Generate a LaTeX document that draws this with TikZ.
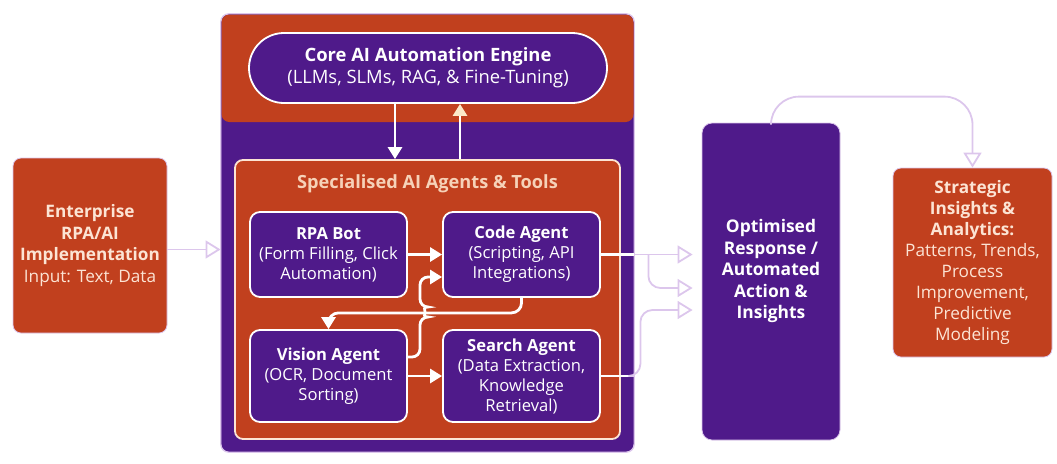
\documentclass[tikz,border=0pt]{standalone}
\usepackage{fontspec}
\setmainfont{Open Sans}
\usetikzlibrary{arrows.meta,positioning}
\definecolor{rustx}{HTML}{C1401E}
\definecolor{violx}{HTML}{4F1A8A}
\definecolor{lilacx}{HTML}{DCC6EC}
\definecolor{peachx}{HTML}{FCE4D4}
\definecolor{sandx}{HTML}{F6D2B8}
\definecolor{butterx}{HTML}{FBE9C8}
\tikzset{
  obox/.style={draw=lilacx,thin,rounded corners=4pt,fill=rustx,align=center,text=peachx,inner sep=0pt,font=\fontsize{8.6}{10.75}\selectfont},
  pbox/.style={draw=white,line width=0.9pt,rounded corners=5pt,fill=violx,align=center,text=white,inner sep=0pt,font=\fontsize{8.3}{10}\selectfont},
  war/.style={-{Triangle[length=6pt,width=7pt]},line width=1.4pt,white},
  lar/.style={-{Triangle[open,length=7.5pt,width=9pt]},line width=0.9pt,lilacx,rounded corners=6pt}
}
\begin{document}
\begin{tikzpicture}[x=0.5pt,y=-0.5pt]
\useasboundingbox (0,0) rectangle (1057,463);
% input
\node[obox,minimum width=77pt,minimum height=87.5pt] (ent) at (90,245.5) {\textbf{Enterprise}\\\textbf{RPA/AI}\\\textbf{Implementation}\\Input: Text, Data};
% outer frame with the engine band
\node[pbox,draw=lilacx,thin,rounded corners=4pt,minimum width=206.5pt,minimum height=219pt] (outer) at (427.5,233) {};
\fill[rustx,rounded corners=4pt] (221.5,14.5) rectangle (633.5,122);
\draw[lilacx,thin,rounded corners=4pt] (outer.north west) rectangle (outer.south east);
\node[pbox,rounded corners=17.5pt,minimum width=179pt,minimum height=35pt,font=\fontsize{9.2}{11}\selectfont] (core) at (428,68) {\textbf{Core AI Automation Engine}\\(LLMs, SLMs, RAG, \& Fine-Tuning)};
% agents
\node[obox,draw=peachx,line width=0.9pt,minimum width=192.5pt,minimum height=139.5pt] (spec) at (427.5,299.5) {};
\node[font=\bfseries\fontsize{9.1}{12}\selectfont,text=sandx] (spectitle) at (427.5,184) {Specialised AI Agents \& Tools};
\node[pbox,minimum width=78.5pt,minimum height=42.5pt] (rpa) at (328.5,254.5) {\textbf{RPA Bot}\\(Form Filling, Click\\Automation)};
\node[pbox,minimum width=78.5pt,minimum height=42.5pt] (code) at (521.5,254.5) {\textbf{Code Agent}\\(Scripting, API\\Integrations)};
\node[pbox,minimum width=78.5pt,minimum height=46pt] (vis) at (328.5,376) {\textbf{Vision Agent}\\(OCR, Document\\Sorting)};
\node[pbox,minimum width=78.5pt,minimum height=46pt] (srch) at (521.5,376) {\textbf{Search Agent}\\(Data Extraction,\\Knowledge\\Retrieval)};
% outputs
\node[pbox,draw=lilacx,thin,minimum width=69pt,minimum height=158.5pt] (opt) at (771,281.5) {};
\node[align=center,text=white,inner sep=0pt,font=\bfseries\fontsize{8.7}{10.75}\selectfont] (opttext) at (771,271) {Optimised\\Response /\\Automated\\Action \&\\Insights};
\node[obox,minimum width=79.5pt,minimum height=94.5pt,font=\fontsize{8.6}{10.5}\selectfont] (strat) at (972.5,262.5) {\textbf{Strategic}\\\textbf{Insights \&}\\\textbf{Analytics:}\\Patterns, Trends,\\Process\\Improvement,\\Predictive\\Modeling};

\draw[lar] ([yshift=-2pt]ent.east) -- ([yshift=-2pt]ent.east -| outer.west);
\draw[war] ([xshift=-16.5pt]core.south) -- ([xshift=-16.5pt]core.south |- spec.north);
\draw[war,-{Triangle[length=6pt,width=7pt,color=butterx]}] ([xshift=16pt]core.south |- spec.north) -- ([xshift=16pt]core.south);
\draw[war] (rpa.east) -- (code.west);
\draw[war] (vis.east) -- (srch.west);
\draw[war,rounded corners=5pt] (code.south) -- ++(0,15) -| (vis.north);
\coordinate (hop) at (420,312);
\draw[war,rounded corners=4pt] ([yshift=9.5pt]vis.east) -| ([yshift=-2.5pt]hop) arc[start angle=-90,end angle=90,radius=2.5pt] |- ([yshift=-11.25pt]code.west);
\coordinate (in1) at ([xshift=-4.5pt]opt.west |- code.east);
\coordinate (in2) at ([yshift=-16.75pt]in1);
\coordinate (in3) at ([yshift=-27.75pt]in1);
\draw[white,line width=1.4pt] (code.east) -- (code.east -| outer.east);
\draw[lar] (code.east -| outer.east) -- (in1);
\draw[lar] ([xshift=7pt]code.east -| outer.east) |- (in2);
\draw[white,line width=1.4pt] (srch.east) -- (srch.east -| outer.east);
\draw[lar] (srch.east -| outer.east) -- ++(6,0) |- (in3);
\draw[lar,rounded corners=14pt] (opt.north) -- ++(0,-26) -| (strat.north);
\end{tikzpicture}
\end{document}
